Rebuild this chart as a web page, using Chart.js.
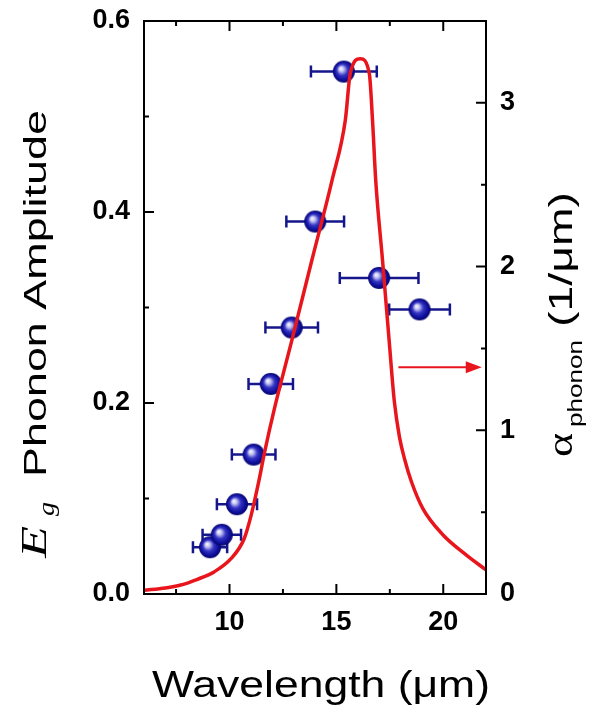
<!DOCTYPE html>
<html>
<head>
<meta charset="utf-8">
<title>Eg phonon amplitude vs wavelength</title>
<script src="https://cdn.jsdelivr.net/npm/chart.js@4.4.1/dist/chart.umd.min.js"></script>
<style>
  html, body { margin: 0; padding: 0; background: #fff; }
  canvas { display: block; }
</style>
</head>
<body>
<canvas id="phononChart" width="599" height="707"></canvas>
<script>
// Eg phonon amplitude (left axis), with wavelength uncertainty
const wavelength = [9.09, 9.64, 10.35, 11.13, 11.93, 12.91, 14.01, 15.35, 17.00, 18.89];
const wavelengthErr = [0.80, 0.90, 0.94, 1.02, 1.04, 1.23, 1.35, 1.54, 1.84, 1.42];
const amplitude = [0.049, 0.062, 0.094, 0.146, 0.220, 0.279, 0.390, 0.547, 0.331, 0.298];

// phonon absorption coefficient (right axis, 1/um)
const curveWavelength = [6.0, 7.0, 7.72, 8.5, 9.28, 10.08, 10.69, 11.02, 11.34, 11.65, 12.11, 12.91, 13.85, 14.8,
  15.42, 15.65, 16.12, 16.54, 16.69, 16.84, 17.16, 17.47, 17.71, 17.95, 18.2, 18.5, 19.04, 19.98, 21.07, 22.0];
const alphaPhonon = [0.023, 0.037, 0.055, 0.09, 0.135, 0.217, 0.339, 0.485, 0.669, 0.871, 1.137, 1.546, 2.037, 2.528,
  2.896, 3.18, 3.27, 3.18, 2.896, 2.528, 2.037, 1.546, 1.178, 0.96, 0.82, 0.69, 0.523, 0.362, 0.239, 0.147];

// axis ticks (all tick marks, and the ones that get a label)
const xTicks = [7.5, 10, 12.5, 15, 17.5, 20];
const xLabelTicks = [10, 15, 20];
const ampTicks = [0, 0.1, 0.2, 0.3, 0.4, 0.5, 0.6];
const ampLabelTicks = [0, 0.2, 0.4, 0.6];
const alphaTicks = [0, 0.5, 1, 1.5, 2, 2.5, 3];
const alphaLabelTicks = [0, 1, 2, 3];

// arrow pointing at the right axis: [wavelength, alpha]
const arrowFrom = [17.9, 1.385];
const arrowTo = [21.8, 1.385];

const navy = '#16168c';
const red = '#e8161c';
const tickFont = { family: 'Liberation Sans, Arial, sans-serif', size: 27, weight: 'bold' };

function hasTick(list, v) {
    return list.some(t => Math.abs(t - v) < 1e-9);
}

// fixed box sizes so the plot frame lands where it should
function fixSize(prop, size) {
    return s => {
        s[prop] = size;
        s.paddingTop = s.paddingBottom = s.paddingLeft = s.paddingRight = 0;
    };
}

// shaded blue ball used as marker
function makeBall(r) {
    const c = document.createElement('canvas');
    c.width = c.height = r * 2 + 2;
    const g = c.getContext('2d');
    const cx = r + 1, cy = r + 1;
    const grad = g.createRadialGradient(cx - r * 0.3, cy - r * 0.3, 0, cx, cy, r);
    grad.addColorStop(0, '#ffffff');
    grad.addColorStop(0.22, '#c4c4f2');
    grad.addColorStop(0.5, '#3535c4');
    grad.addColorStop(0.8, '#0f0f9c');
    grad.addColorStop(1, '#05056a');
    g.fillStyle = grad;
    g.beginPath();
    g.arc(cx, cy, r, 0, Math.PI * 2);
    g.fill();
    return c;
}

// text squeezed/stretched to a given run length
function runText(ctx, text, x, y, font, length) {
    ctx.font = font;
    const w = ctx.measureText(text).width;
    ctx.save();
    ctx.translate(x, y);
    ctx.scale(length / w, 1);
    ctx.textAlign = 'left';
    ctx.textBaseline = 'alphabetic';
    ctx.fillText(text, 0, 0);
    ctx.restore();
}

const errorBars = {
    id: 'errorBars',
    beforeDatasetsDraw(chart) {
        const { ctx, scales } = chart;
        ctx.save();
        ctx.strokeStyle = navy;
        ctx.lineWidth = 2.5;
        ctx.beginPath();
        wavelength.forEach((w, i) => {
            const y = scales.y.getPixelForValue(amplitude[i]);
            const x0 = scales.x.getPixelForValue(w - wavelengthErr[i]);
            const x1 = scales.x.getPixelForValue(w + wavelengthErr[i]);
            ctx.moveTo(x0, y); ctx.lineTo(x1, y);
            ctx.moveTo(x0, y - 6); ctx.lineTo(x0, y + 6);
            ctx.moveTo(x1, y - 6); ctx.lineTo(x1, y + 6);
        });
        ctx.stroke();
        ctx.restore();
    }
};

const frameAndDecor = {
    id: 'frameAndDecor',
    afterDraw(chart) {
        const { ctx, chartArea: a, scales } = chart;
        ctx.save();

        // inward tick marks
        ctx.strokeStyle = '#000';
        ctx.lineWidth = 2;
        ctx.beginPath();
        xTicks.forEach(v => {
            const px = scales.x.getPixelForValue(v);
            const len = hasTick(xLabelTicks, v) ? 10 : 5;
            ctx.moveTo(px, a.bottom); ctx.lineTo(px, a.bottom - len);
            ctx.moveTo(px, a.top); ctx.lineTo(px, a.top + len);
        });
        ampTicks.forEach(v => {
            const py = scales.y.getPixelForValue(v);
            const len = hasTick(ampLabelTicks, v) ? 10 : 5;
            ctx.moveTo(a.left, py); ctx.lineTo(a.left + len, py);
        });
        alphaTicks.forEach(v => {
            const py = scales.y1.getPixelForValue(v);
            const len = hasTick(alphaLabelTicks, v) ? 10 : 5;
            ctx.moveTo(a.right, py); ctx.lineTo(a.right - len, py);
        });
        ctx.stroke();
        ctx.strokeRect(a.left, a.top, a.width, a.height);

        // arrow towards the alpha axis
        const ax0 = scales.x.getPixelForValue(arrowFrom[0]);
        const ay0 = scales.y1.getPixelForValue(arrowFrom[1]);
        const ax1 = scales.x.getPixelForValue(arrowTo[0]);
        const ay1 = scales.y1.getPixelForValue(arrowTo[1]);
        ctx.strokeStyle = red;
        ctx.fillStyle = red;
        ctx.lineWidth = 2;
        ctx.beginPath();
        ctx.moveTo(ax0, ay0); ctx.lineTo(ax1 - 12, ay1);
        ctx.stroke();
        ctx.beginPath();
        ctx.moveTo(ax1, ay1);
        ctx.lineTo(ax1 - 16, ay1 - 6);
        ctx.lineTo(ax1 - 16, ay1 + 6);
        ctx.closePath();
        ctx.fill();

        // axis titles
        ctx.fillStyle = '#000';
        runText(ctx, 'Wavelength (\u03bcm)', 152, 697, '36px "Liberation Sans", Arial, sans-serif', 338);

        ctx.save();
        ctx.translate(46, 560);
        ctx.rotate(-Math.PI / 2);
        runText(ctx, 'E', 2, 0, 'italic 36px "Liberation Serif", "Times New Roman", serif', 32);
        runText(ctx, 'g', 44, 8, 'italic 24px "Liberation Serif", "Times New Roman", serif', 14);
        runText(ctx, 'Phonon Amplitude', 83, 0, '32px "Liberation Sans", Arial, sans-serif', 367);
        ctx.restore();

        ctx.save();
        ctx.translate(572, 457);
        ctx.rotate(-Math.PI / 2);
        runText(ctx, '\u03b1', 0, 0, '36px "Liberation Serif", serif', 24);
        runText(ctx, 'phonon', 30, 10, '20px "Liberation Sans", Arial, sans-serif', 87);
        runText(ctx, '(1/\u03bcm)', 130, 0, '34px "Liberation Sans", Arial, sans-serif', 135);
        ctx.restore();

        ctx.restore();
    }
};

const ball = makeBall(11);

new Chart(document.getElementById('phononChart'), {
    type: 'scatter',
    data: {
        datasets: [{
            label: 'Eg phonon amplitude',
            data: wavelength.map((w, i) => ({ x: w, y: amplitude[i] })),
            yAxisID: 'y',
            pointStyle: ball,
            pointRadius: 11,
            order: 2
        }, {
            label: 'alpha phonon',
            data: curveWavelength.map((w, i) => ({ x: w, y: alphaPhonon[i] })),
            yAxisID: 'y1',
            showLine: true,
            borderColor: red,
            borderWidth: 3.5,
            pointRadius: 0,
            cubicInterpolationMode: 'monotone',
            order: 1
        }]
    },
    options: {
        responsive: false,
        animation: false,
        layout: { padding: { top: 21, left: 0, right: 0, bottom: 0 } },
        plugins: {
            legend: { display: false },
            tooltip: { enabled: false }
        },
        scales: {
            x: {
                type: 'linear',
                min: 6,
                max: 22,
                grid: { display: false, drawTicks: false },
                border: { display: false },
                afterBuildTicks: s => { s.ticks = xTicks.map(v => ({ value: v })); },
                afterFit: fixSize('height', 113),
                ticks: {
                    color: '#000',
                    font: tickFont,
                    padding: 12,
                    maxRotation: 0,
                    autoSkip: false,
                    callback: v => hasTick(xLabelTicks, v) ? String(v) : ''
                }
            },
            y: {
                type: 'linear',
                position: 'left',
                min: 0,
                max: 0.6,
                grid: { display: false, drawTicks: false },
                border: { display: false },
                afterBuildTicks: s => { s.ticks = ampTicks.map(v => ({ value: v })); },
                afterFit: fixSize('width', 144),
                ticks: {
                    color: '#000',
                    font: tickFont,
                    padding: 14,
                    autoSkip: false,
                    callback: v => hasTick(ampLabelTicks, v) ? v.toFixed(1) : ''
                }
            },
            y1: {
                type: 'linear',
                position: 'right',
                min: 0,
                max: 3.5,
                grid: { display: false, drawTicks: false },
                border: { display: false },
                afterBuildTicks: s => { s.ticks = alphaTicks.map(v => ({ value: v })); },
                afterFit: fixSize('width', 113),
                ticks: {
                    color: '#000',
                    font: tickFont,
                    padding: 14,
                    autoSkip: false,
                    callback: v => hasTick(alphaLabelTicks, v) ? String(v) : ''
                }
            }
        }
    },
    plugins: [errorBars, frameAndDecor]
});
</script>
</body>
</html>
